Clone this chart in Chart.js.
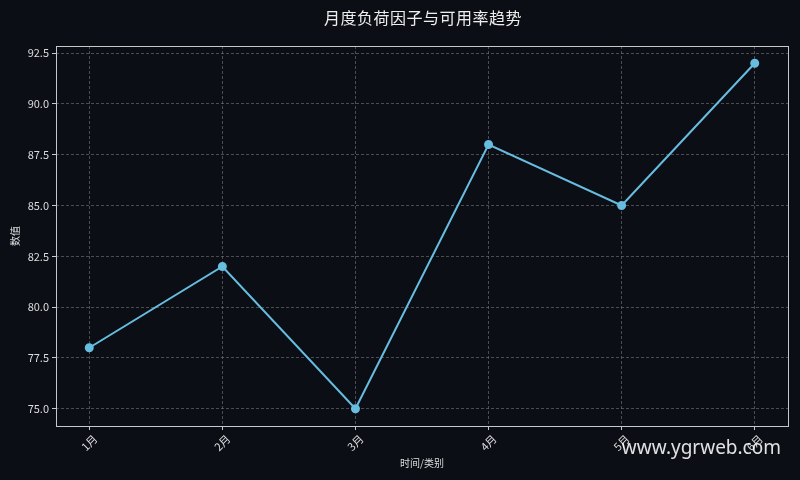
<!DOCTYPE html>
<html>
<head>
<meta charset="utf-8">
<script src="https://cdn.jsdelivr.net/npm/chart.js@4/dist/chart.umd.min.js"></script>
<style>
  html, body { margin: 0; padding: 0; background: #0b0e15; }
  #wrap { width: 800px; height: 480px; }
</style>
</head>
<body>
<div id="wrap"><canvas id="chart" width="800" height="480"></canvas></div>
<script>
var months = ['1月', '2月', '3月', '4月', '5月', '6月'];
var values = [78, 82, 75, 88, 85, 92];
var yTicks = [75.0, 77.5, 80.0, 82.5, 85.0, 87.5, 90.0, 92.5];

var chartTitle = '月度负荷因子与可用率趋势';
var watermark = 'www.ygrweb.com';
var fontFamily = '"Noto Sans CJK SC", "DejaVu Sans", sans-serif';

var points = [];
for (var i = 0; i < values.length; i++) {
    points.push({ x: i, y: values[i] });
}

// title, frame and watermark are drawn on the canvas by hand
var decorPlugin = {
    id: 'decor',
    beforeDraw: function (chart) {
        var ctx = chart.ctx;
        ctx.save();
        ctx.fillStyle = '#0b0e15';
        ctx.fillRect(0, 0, chart.width, chart.height);
        ctx.restore();
    },
    afterDraw: function (chart) {
        var ctx = chart.ctx;
        var a = chart.chartArea;
        ctx.save();
        ctx.strokeStyle = '#c8c8c8';
        ctx.lineWidth = 1;
        ctx.strokeRect(a.left + 0.5, a.top + 0.5, a.right - a.left, a.bottom - a.top);

        ctx.fillStyle = '#eeeeee';
        ctx.font = '16px ' + fontFamily;
        ctx.letterSpacing = '0.5px';
        ctx.textAlign = 'center';
        ctx.textBaseline = 'middle';
        ctx.fillText(chartTitle, (a.left + a.right) / 2 + 1, 18);

        ctx.letterSpacing = '0px';
        ctx.fillStyle = 'rgba(255,255,255,0.88)';
        ctx.font = '19px "Noto Sans", "DejaVu Sans", sans-serif';
        ctx.textAlign = 'right';
        ctx.fillText(watermark, 781, 449);
        ctx.restore();
    }
};

var gridOpts = {
    color: 'rgba(120,120,120,0.6)',
    tickBorderDash: [],
    tickColor: '#c8c8c8',
    tickLength: 4
};

var ctx = document.getElementById('chart').getContext('2d');
new Chart(ctx, {
    type: 'line',
    data: {
        datasets: [{
            data: points,
            borderColor: '#67bde0',
            backgroundColor: '#67bde0',
            borderWidth: 2,
            pointRadius: 3.5,
            pointHoverRadius: 3.5,
            tension: 0
        }]
    },
    options: {
        responsive: false,
        animation: false,
        devicePixelRatio: 1,
        layout: { padding: { left: 0, top: 46, right: 12, bottom: 11 } },
        plugins: {
            legend: { display: false },
            tooltip: { enabled: false }
        },
        scales: {
            x: {
                type: 'linear',
                min: -0.25,
                max: 5.25,
                afterBuildTicks: function (scale) {
                    scale.ticks = months.map(function (m, i) { return { value: i }; });
                },
                afterFit: function (scale) { scale.height = 43; },
                ticks: {
                    color: '#dddddd',
                    font: { size: 11, family: fontFamily },
                    minRotation: 45,
                    maxRotation: 45,
                    padding: 2,
                    labelOffset: 6,
                    callback: function (v) { return months[v]; }
                },
                grid: gridOpts,
                border: { display: false, dash: [3, 2] },
                title: {
                    display: true,
                    text: '时间/类别',
                    color: '#dddddd',
                    font: { size: 10, family: fontFamily },
                    padding: { top: 0, bottom: 0 }
                }
            },
            y: {
                min: 74.15,
                max: 92.85,
                afterBuildTicks: function (scale) {
                    scale.ticks = yTicks.map(function (v) { return { value: v }; });
                },
                afterFit: function (scale) { scale.width = 56; },
                ticks: {
                    color: '#dddddd',
                    font: { size: 11, family: fontFamily },
                    padding: 3,
                    callback: function (v) { return v.toFixed(1); }
                },
                grid: gridOpts,
                border: { display: false, dash: [3, 2] },
                title: {
                    display: true,
                    text: '数值',
                    color: '#dddddd',
                    font: { size: 10, family: fontFamily },
                    padding: { top: 9, bottom: 0 }
                }
            }
        }
    },
    plugins: [decorPlugin]
});
</script>
</body>
</html>
